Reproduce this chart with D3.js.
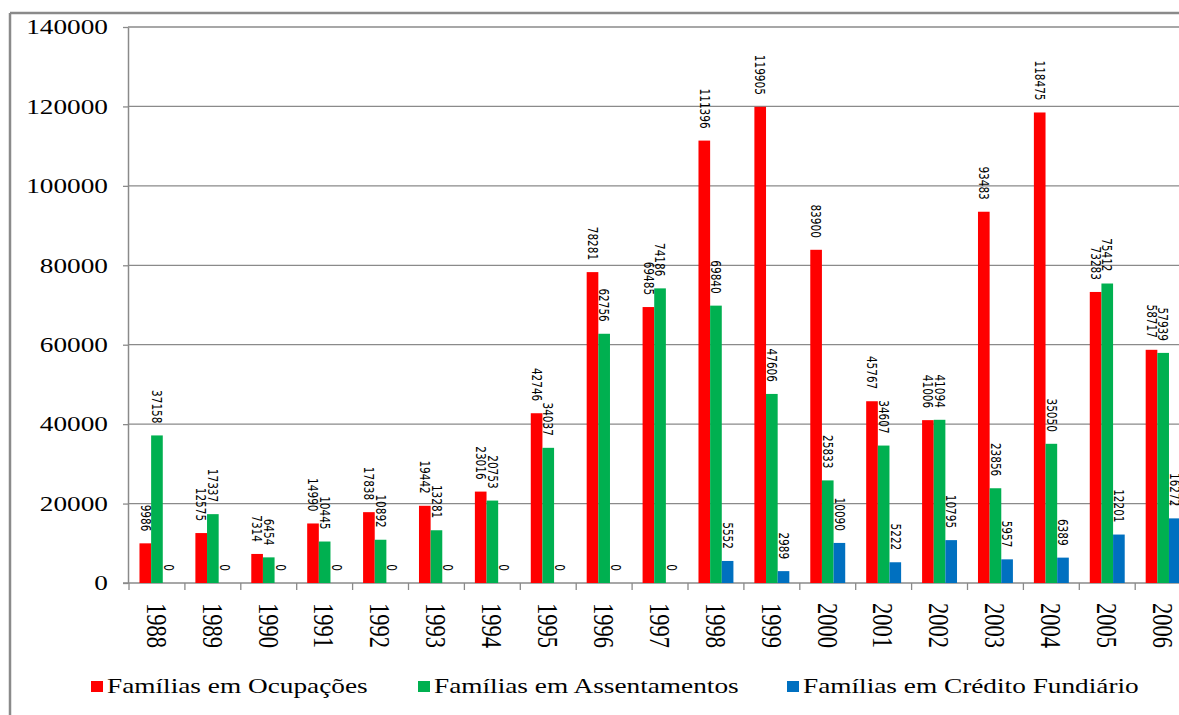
<!DOCTYPE html>
<html lang="en">
<head>
<meta charset="UTF-8">
<title>Famílias</title>
<style>
    body { margin: 0; background: #fff; }
    svg { display: block; }
</style>
</head>
<body>
<svg id="chart"></svg>
<script src="https://cdnjs.cloudflare.com/ajax/libs/d3/7.8.5/d3.min.js"></script>
<script>
var years = ["1988","1989","1990","1991","1992","1993","1994","1995","1996","1997",
             "1998","1999","2000","2001","2002","2003","2004","2005","2006"];
var ocupacoes = [9986,12575,7314,14990,17838,19442,23016,42746,78281,69485,
                 111396,119905,83900,45767,41006,93483,118475,73283,58717];
var assentamentos = [37158,17337,6454,10445,10892,13281,20753,34037,62756,74186,
                     69840,47606,25833,34607,41094,23856,35050,75412,57939];
var credito = [0,0,0,0,0,0,0,0,0,0,
               5552,2989,10090,5222,10795,5957,6389,12201,16272];
var seriesNames = ["Famílias em Ocupações","Famílias em Assentamentos","Famílias em Crédito Fundiário"];
var seriesColors = ["#ff0000","#00b050","#0070c0"];
var yTicks = [0,20000,40000,60000,80000,100000,120000,140000];

var W = 1179, H = 715, sx = 1.3;
var serif = "'Liberation Serif', 'Times New Roman', Times, serif";
var svg = d3.select("#chart").attr("width", W).attr("height", H);

var series = [ocupacoes, assentamentos, credito];

var x0 = d3.scaleBand().domain(years).range([129, 129 + 19 * 55.9]);
var x1 = d3.scaleBand().domain([0,1,2]).range([0, x0.bandwidth()]).paddingInner(0).paddingOuter(0.9);
var y = d3.scaleLinear().domain([0, 140000]).range([583, 27]);

// outer frame
svg.append("line").attr("x1", 10).attr("x2", W).attr("y1", 13).attr("y2", 13)
    .attr("stroke", "#8a8a8a").attr("stroke-width", 2.5);
svg.append("line").attr("x1", 10).attr("x2", 10).attr("y1", 13).attr("y2", H)
    .attr("stroke", "#8a8a8a").attr("stroke-width", 2.5);

// gridlines
svg.append("g").selectAll("line").data(yTicks.slice(1)).enter().append("line")
    .attr("x1", 128).attr("x2", W)
    .attr("y1", function(d){ return y(d); }).attr("y2", function(d){ return y(d); })
    .attr("stroke", "#8a8a8a").attr("stroke-width", 1.3);

// y axis
var yAxis = svg.append("g").attr("transform", "translate(128,0)")
    .call(d3.axisLeft(y).tickValues(yTicks).tickSize(5).tickSizeOuter(0).tickFormat(""));
yAxis.select(".domain").attr("stroke", "#8a8a8a").attr("stroke-width", 1.5);
yAxis.selectAll(".tick line").attr("stroke", "#8a8a8a").attr("stroke-width", 1.3);
svg.append("g").selectAll("text").data(yTicks).enter().append("text")
    .attr("font-family", serif).attr("font-size", 21).attr("text-anchor", "end")
    .attr("dy", "0.35em")
    .attr("transform", function(d){ return "translate(108," + y(d) + ") scale(" + sx + ",1)"; })
    .text(function(d){ return d; });

// x axis
svg.append("line").attr("x1", 123).attr("x2", W).attr("y1", 583).attr("y2", 583)
    .attr("stroke", "#8a8a8a").attr("stroke-width", 1.5);
svg.append("g").selectAll("line").data(years).enter().append("line")
    .attr("x1", function(d){ return x0(d); }).attr("x2", function(d){ return x0(d); })
    .attr("y1", 583).attr("y2", 590)
    .attr("stroke", "#8a8a8a").attr("stroke-width", 1.3);
svg.append("g").selectAll("text").data(years).enter().append("text")
    .attr("font-family", serif).attr("font-size", 22.5).attr("dy", "0.35em")
    .attr("transform", function(d){
        return "translate(" + (x0(d) + x0.bandwidth() / 2) + ",603) scale(" + sx + ",1) rotate(90)";
    })
    .text(function(d){ return d; });

// bars
var groups = svg.append("g").selectAll("g").data(years).enter().append("g")
    .attr("transform", function(d){ return "translate(" + x0(d) + ",0)"; });

function cells(d, i) {
    return series.map(function(s, k){ return {k: k, v: s[i]}; });
}

groups.selectAll("rect").data(cells).enter().append("rect")
    .attr("x", function(d){ return x1(d.k); })
    .attr("width", x1.bandwidth())
    .attr("y", function(d){ return y(d.v); })
    .attr("height", function(d){ return 583 - y(d.v); })
    .attr("fill", function(d){ return seriesColors[d.k]; });

groups.selectAll("text").data(cells).enter().append("text")
    .attr("font-family", "'DejaVu Sans', sans-serif").attr("font-size", 10.5)
    .attr("text-anchor", "end").attr("dy", "0.35em")
    .attr("transform", function(d){
        return "translate(" + (x1(d.k) + x1.bandwidth() / 2) + "," + (y(d.v) - 12) + ") scale(" + sx + ",1) rotate(90)";
    })
    .text(function(d){ return d.v; });

// legend
var legendX = [91, 418, 787];
var legend = svg.append("g").selectAll("g").data(seriesNames).enter().append("g")
    .attr("transform", function(d, i){ return "translate(" + legendX[i] + ",0)"; });
legend.append("rect").attr("x", 0).attr("y", 681).attr("width", 12).attr("height", 11)
    .attr("fill", function(d, i){ return seriesColors[i]; });
legend.append("text").attr("font-family", serif).attr("font-size", 21)
    .attr("transform", "translate(16,693) scale(" + sx + ",1)")
    .text(function(d){ return d; });
</script>
</body>
</html>
